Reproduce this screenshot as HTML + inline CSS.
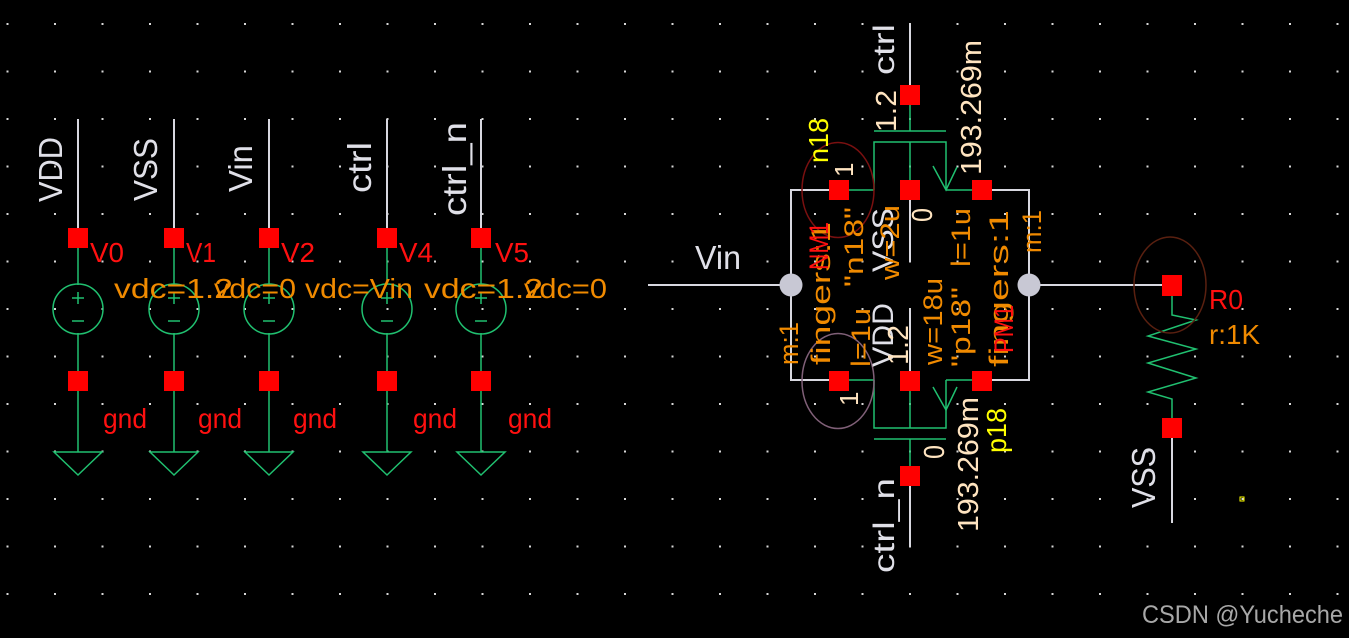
<!DOCTYPE html>
<html><head><meta charset="utf-8"><style>
html,body{margin:0;padding:0;background:#000;}
svg{display:block;}
text{font-family:"Liberation Sans",sans-serif;}
</style></head><body>
<svg width="1349" height="638" viewBox="0 0 1349 638" xmlns="http://www.w3.org/2000/svg">
<defs>
<pattern id="grid" x="6.5" y="23" width="47.5" height="47.5" patternUnits="userSpaceOnUse">
<rect x="0" y="0" width="2" height="2" fill="#d8d8d8"/>
</pattern>
</defs>
<rect width="1349" height="638" fill="#000"/>
<rect width="1349" height="638" fill="url(#grid)"/>

<!-- Left sources -->
<g stroke="#d8d8e0" stroke-width="2" fill="none">
<line x1="78" y1="119" x2="78" y2="228"/>
<line x1="174" y1="119" x2="174" y2="228"/>
<line x1="269" y1="119" x2="269" y2="228"/>
<line x1="387" y1="119" x2="387" y2="228"/>
<line x1="481" y1="119" x2="481" y2="228"/>
</g>
<g stroke="#20c070" stroke-width="1.5" fill="none">
<g id="src">
</g>
<!-- column 1 -->
<line x1="78" y1="248" x2="78" y2="285"/><circle cx="78" cy="309" r="25"/><line x1="78" y1="333" x2="78" y2="371"/><line x1="78" y1="391" x2="78" y2="452"/>
<line x1="72" y1="298" x2="84" y2="298"/><line x1="78" y1="292" x2="78" y2="304"/><line x1="72" y1="321" x2="84" y2="321"/>
<polygon points="54,452 102,452 78,475"/>
<line x1="174" y1="248" x2="174" y2="285"/><circle cx="174" cy="309" r="25"/><line x1="174" y1="333" x2="174" y2="371"/><line x1="174" y1="391" x2="174" y2="452"/>
<line x1="168" y1="298" x2="180" y2="298"/><line x1="174" y1="292" x2="174" y2="304"/><line x1="168" y1="321" x2="180" y2="321"/>
<polygon points="150,452 198,452 174,475"/>
<line x1="269" y1="248" x2="269" y2="285"/><circle cx="269" cy="309" r="25"/><line x1="269" y1="333" x2="269" y2="371"/><line x1="269" y1="391" x2="269" y2="452"/>
<line x1="263" y1="298" x2="275" y2="298"/><line x1="269" y1="292" x2="269" y2="304"/><line x1="263" y1="321" x2="275" y2="321"/>
<polygon points="245,452 293,452 269,475"/>
<line x1="387" y1="248" x2="387" y2="285"/><circle cx="387" cy="309" r="25"/><line x1="387" y1="333" x2="387" y2="371"/><line x1="387" y1="391" x2="387" y2="452"/>
<line x1="381" y1="298" x2="393" y2="298"/><line x1="387" y1="292" x2="387" y2="304"/><line x1="381" y1="321" x2="393" y2="321"/>
<polygon points="363,452 411,452 387,475"/>
<line x1="481" y1="248" x2="481" y2="285"/><circle cx="481" cy="309" r="25"/><line x1="481" y1="333" x2="481" y2="371"/><line x1="481" y1="391" x2="481" y2="452"/>
<line x1="475" y1="298" x2="487" y2="298"/><line x1="481" y1="292" x2="481" y2="304"/><line x1="475" y1="321" x2="487" y2="321"/>
<polygon points="457,452 505,452 481,475"/>
</g>
<g fill="#ff0000">
<rect x="68" y="228" width="20" height="20"/><rect x="68" y="371" width="20" height="20"/>
<rect x="164" y="228" width="20" height="20"/><rect x="164" y="371" width="20" height="20"/>
<rect x="259" y="228" width="20" height="20"/><rect x="259" y="371" width="20" height="20"/>
<rect x="377" y="228" width="20" height="20"/><rect x="377" y="371" width="20" height="20"/>
<rect x="471" y="228" width="20" height="20"/><rect x="471" y="371" width="20" height="20"/>
</g>
<g fill="#e0e0e8" font-size="33">
<text transform="translate(62,202) rotate(-90)" textLength="65" lengthAdjust="spacingAndGlyphs">VDD</text>
<text transform="translate(157,201) rotate(-90)" textLength="63" lengthAdjust="spacingAndGlyphs">VSS</text>
<text transform="translate(252,192) rotate(-90)" textLength="47" lengthAdjust="spacingAndGlyphs">Vin</text>
<text transform="translate(371,193) rotate(-90)" textLength="51" lengthAdjust="spacingAndGlyphs">ctrl</text>
<text transform="translate(466,216) rotate(-90)" textLength="94" lengthAdjust="spacingAndGlyphs">ctrl_n</text>
<text x="695" y="269" textLength="46" lengthAdjust="spacingAndGlyphs">Vin</text>
<text transform="translate(1155,508) rotate(-90)" textLength="61" lengthAdjust="spacingAndGlyphs">VSS</text>
</g>
<g fill="#ff1010" font-size="28">
<text x="90" y="262" textLength="34" lengthAdjust="spacingAndGlyphs">V0</text>
<text x="186" y="262" textLength="30" lengthAdjust="spacingAndGlyphs">V1</text>
<text x="281" y="262" textLength="34" lengthAdjust="spacingAndGlyphs">V2</text>
<text x="399" y="262" textLength="34" lengthAdjust="spacingAndGlyphs">V4</text>
<text x="495" y="262" textLength="34" lengthAdjust="spacingAndGlyphs">V5</text>
<text x="103" y="428" textLength="44" lengthAdjust="spacingAndGlyphs">gnd</text>
<text x="198" y="428" textLength="44" lengthAdjust="spacingAndGlyphs">gnd</text>
<text x="293" y="428" textLength="44" lengthAdjust="spacingAndGlyphs">gnd</text>
<text x="413" y="428" textLength="44" lengthAdjust="spacingAndGlyphs">gnd</text>
<text x="508" y="428" textLength="44" lengthAdjust="spacingAndGlyphs">gnd</text>
<text x="1209" y="309" textLength="34" lengthAdjust="spacingAndGlyphs">R0</text>
</g>
<g fill="#f08a00" font-size="28">
<text x="114" y="298" textLength="119" lengthAdjust="spacingAndGlyphs">vdc=1.2</text>
<text x="214" y="298" textLength="82" lengthAdjust="spacingAndGlyphs">vdc=0</text>
<text x="305" y="298" textLength="108" lengthAdjust="spacingAndGlyphs">vdc=Vin</text>
<text x="424" y="298" textLength="119" lengthAdjust="spacingAndGlyphs">vdc=1.2</text>
<text x="524" y="298" textLength="83" lengthAdjust="spacingAndGlyphs">vdc=0</text>
<text x="1209" y="344" textLength="51" lengthAdjust="spacingAndGlyphs">r:1K</text>
</g>

<!-- transmission gate wires -->
<g stroke="#d8d8e0" stroke-width="2" fill="none">
<line x1="910" y1="24" x2="910" y2="85"/>
<line x1="648" y1="285" x2="791" y2="285"/>
<polyline points="829,190 791,190 791,380 829,380"/>
<polyline points="992,190 1029,190 1029,380 992,380"/>
<line x1="1029" y1="285" x2="1162" y2="285"/>
<line x1="910" y1="200" x2="910" y2="262"/>
<line x1="910" y1="309" x2="910" y2="371"/>
<line x1="910" y1="486" x2="910" y2="547"/>
<line x1="1172" y1="438" x2="1172" y2="523"/>
</g>
<g stroke="#20c070" stroke-width="1.5" fill="none">
<line x1="910" y1="105" x2="910" y2="131"/>
<line x1="874" y1="131" x2="946" y2="131"/>
<polyline points="874,190 874,142 946,142 946,190"/>
<line x1="910" y1="142" x2="910" y2="180"/>
<line x1="849" y1="190" x2="874" y2="190"/>
<line x1="946" y1="190" x2="972" y2="190"/>
<polyline points="933,166 946,190 957,167"/>
<line x1="849" y1="380" x2="874" y2="380"/>
<polyline points="874,380 874,428 946,428 946,380"/>
<line x1="910" y1="391" x2="910" y2="428"/>
<line x1="946" y1="380" x2="972" y2="380"/>
<polyline points="933,387 946,410 957,387"/>
<line x1="874" y1="439" x2="946" y2="439"/>
<line x1="910" y1="439" x2="910" y2="466"/>
<polyline points="1172,296 1172,315 1196,320 1148,336 1196,349 1148,363 1196,378 1148,392 1172,399 1172,418"/>
</g>
<ellipse cx="838" cy="190" rx="36" ry="47.5" fill="none" stroke="#7a1010" stroke-width="1.5"/>
<ellipse cx="838" cy="381" rx="36" ry="47.5" fill="none" stroke="#806078" stroke-width="1.5"/>
<ellipse cx="1170" cy="285" rx="36" ry="48" fill="none" stroke="#5a2010" stroke-width="1.5"/>
<g fill="#c8c8d4">
<circle cx="791" cy="285" r="11.5"/>
<circle cx="1029" cy="285" r="11.5"/>
</g>
<g fill="#ff0000">
<rect x="900" y="85" width="20" height="20"/>
<rect x="829" y="180" width="20" height="20"/>
<rect x="900" y="180" width="20" height="20"/>
<rect x="972" y="180" width="20" height="20"/>
<rect x="829" y="371" width="20" height="20"/>
<rect x="900" y="371" width="20" height="20"/>
<rect x="972" y="371" width="20" height="20"/>
<rect x="900" y="466" width="20" height="20"/>
<rect x="1162" y="275" width="20" height="21"/>
<rect x="1162" y="418" width="20" height="20"/>
</g>
<rect x="1240" y="497" width="4" height="4" fill="none" stroke="#ffff00" stroke-width="1"/>

<!-- transistor labels -->
<g fill="#e0e0e8" font-size="30">
<text transform="translate(894,75) rotate(-90)" textLength="51" lengthAdjust="spacingAndGlyphs">ctrl</text>
<text transform="translate(894,573) rotate(-90)" textLength="95" lengthAdjust="spacingAndGlyphs">ctrl_n</text>
<text transform="translate(893,272) rotate(-90)" textLength="64" lengthAdjust="spacingAndGlyphs">VSS</text>
<text transform="translate(893,367) rotate(-90)" textLength="64" lengthAdjust="spacingAndGlyphs">VDD</text>
</g>
<g fill="#ffe4c0" font-size="29">
<text transform="translate(896,132) rotate(-90)" textLength="42" lengthAdjust="spacingAndGlyphs">1.2</text>
<text transform="translate(981,175) rotate(-90)" textLength="135" lengthAdjust="spacingAndGlyphs">193.269m</text>
<text transform="translate(978,532) rotate(-90)" textLength="135" lengthAdjust="spacingAndGlyphs">193.269m</text>
<text transform="translate(932,222) rotate(-90)" textLength="14" lengthAdjust="spacingAndGlyphs">0</text>
<text transform="translate(944,459) rotate(-90)" textLength="14" lengthAdjust="spacingAndGlyphs">0</text>
<text transform="translate(908,365) rotate(-90)" textLength="40" lengthAdjust="spacingAndGlyphs">1.2</text>
<text transform="translate(853,177) rotate(-90)" font-size="26">1</text>
<text transform="translate(858,406) rotate(-90)" font-size="26">1</text>
</g>
<g fill="#f08a00" font-size="27">
<text transform="translate(863,287) rotate(-90)" textLength="80" lengthAdjust="spacingAndGlyphs">"n18"</text>
<text transform="translate(899,280) rotate(-90)" textLength="75" lengthAdjust="spacingAndGlyphs">w=2u</text>
<text transform="translate(970,267) rotate(-90)" textLength="59" lengthAdjust="spacingAndGlyphs">l=1u</text>
<text transform="translate(1041,253) rotate(-90)" textLength="43" lengthAdjust="spacingAndGlyphs">m:1</text>
<text transform="translate(830,365) rotate(-90)" textLength="143" lengthAdjust="spacingAndGlyphs">fingers:1</text>
<text transform="translate(798,365) rotate(-90)" textLength="43" lengthAdjust="spacingAndGlyphs">m:1</text>
<text transform="translate(870,367) rotate(-90)" textLength="59" lengthAdjust="spacingAndGlyphs">l=1u</text>
<text transform="translate(942,365) rotate(-90)" textLength="87" lengthAdjust="spacingAndGlyphs">w=18u</text>
<text transform="translate(970,367) rotate(-90)" textLength="80" lengthAdjust="spacingAndGlyphs">"p18"</text>
<text transform="translate(1008,367) rotate(-90)" textLength="157" lengthAdjust="spacingAndGlyphs">fingers:1</text>
</g>
<g fill="#ff1010" font-size="27">
<text transform="translate(828,270) rotate(-90)" textLength="48" lengthAdjust="spacingAndGlyphs">NM1</text>
<text transform="translate(1013,353) rotate(-90)" textLength="48" lengthAdjust="spacingAndGlyphs">PM1</text>
</g>
<g fill="#ffff00" font-size="28">
<text transform="translate(828,163) rotate(-90)" textLength="45" lengthAdjust="spacingAndGlyphs">n18</text>
<text transform="translate(1006,453) rotate(-90)" textLength="45" lengthAdjust="spacingAndGlyphs">p18</text>
</g>

<text x="1142" y="623" font-size="25" fill="#a8a8a8" textLength="201" lengthAdjust="spacingAndGlyphs">CSDN @Yucheche</text>
</svg>
</body></html>
